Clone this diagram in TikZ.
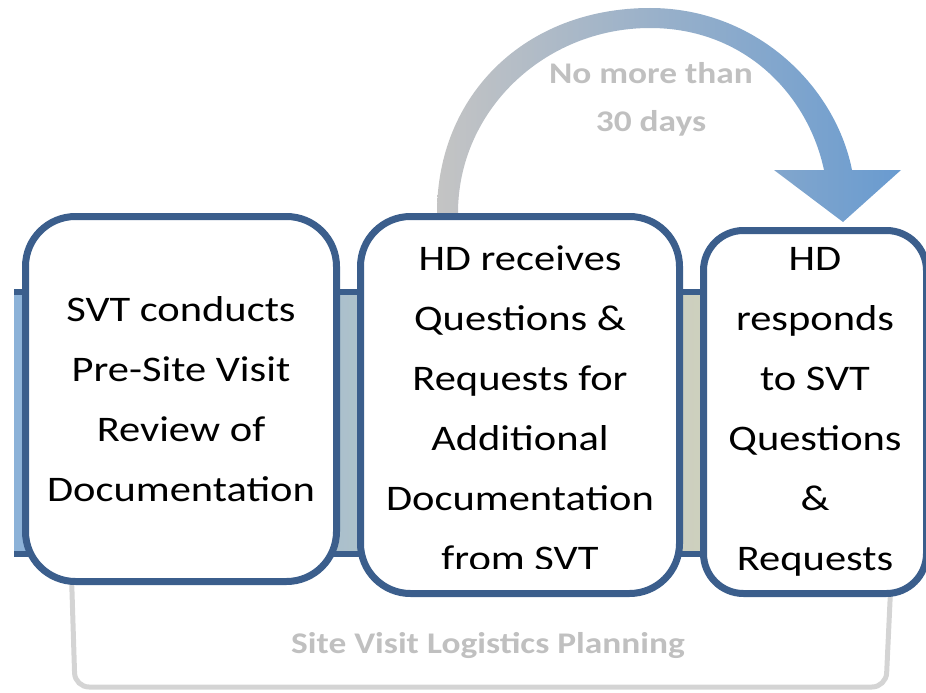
\documentclass[tikz,border=0pt]{standalone}
\usepackage{fontspec}
\setmainfont{Carlito}[FakeStretch=1.18]
\usepackage{xcolor}
\usepackage{tikz}
\usetikzlibrary{calc}
\definecolor{boxblue}{RGB}{59,94,140}
\definecolor{bandL}{RGB}{140,178,216}
\definecolor{bandR}{RGB}{206,208,190}
\definecolor{lblgray}{RGB}{192,192,192}
\definecolor{brkgray}{RGB}{212,212,212}
\definecolor{arrgray}{RGB}{196,196,196}
\definecolor{arrblue}{RGB}{105,155,208}

\begin{document}
\begin{tikzpicture}[x=1pt,y=-1pt,
stepbox/.style={draw=boxblue,line width=7pt,fill=white,rounded corners=50pt,align=center,inner sep=0pt,font=\fontsize{36}{60}\selectfont},
lbl/.style={text=lblgray,align=center,font=\bfseries\fontsize{30}{48}\selectfont}]
\useasboundingbox(0,0)rectangle(926,693);
\draw[brkgray,line width=5pt,rounded corners=14pt](71,560)--(75,687)--(886,687)--(891,580);
\node[lbl](plan) at(488,645){Site Visit Logistics Planning};
\shade[left color=bandL,right color=bandR](14,292)rectangle(705,554);
\draw[boxblue,line width=6pt](14,292)--(705,292);\draw[boxblue,line width=6pt](14,554)--(705,554);
\shade[left color=arrgray,middle color=white!75!arrblue,right color=arrblue]
(437,213)..controls(437,95)and(525,8)..(650,8)..controls(755,8)and(835,85)..(852,170)
--(901,170)--(843,222)--(774,170)--(824,170)
..controls(808,95)and(745,28)..(650,28)..controls(545,28)and(458,110)..(458,213)--cycle;
\node[lbl](days) at(651,99){No more than\\30 days};
\node[stepbox,minimum width=311pt,minimum height=365pt](box1) at(181,399){SVT conducts\\Pre-Site Visit\\Review of\\Documentation};
\node[stepbox,minimum width=319pt,minimum height=377pt](box2) at(520,405){};
\begin{scope}
\clip(357,213)rectangle(683,568);
\node[align=center,font=\fontsize{36}{60}\selectfont](box2txt) at($(box2)+(0,3)$){HD receives\\Questions \&\\Requests for\\Additional\\Documentation\\from SVT};
\end{scope}
\node[stepbox,rounded corners=40pt,minimum width=223pt,minimum height=363pt](box3) at(815,412){HD\\responds\\to SVT\\Questions\\\&\\Requests};
\end{tikzpicture}
\end{document}
